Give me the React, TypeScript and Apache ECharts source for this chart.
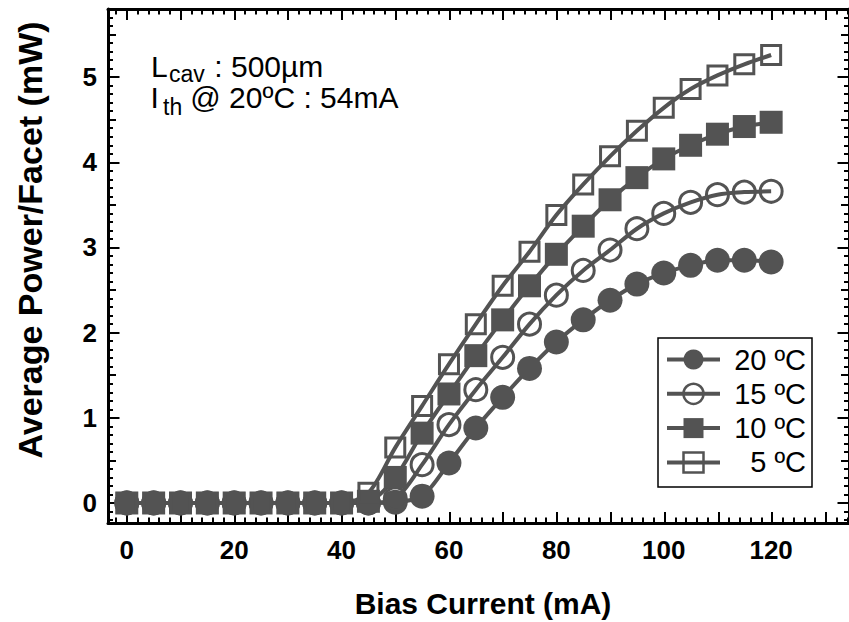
import React, { useEffect, useRef } from 'react';
import * as echarts from 'echarts';

// ---------- data ----------
const currents = [0, 5, 10, 15, 20, 25, 30, 35, 40, 45, 50, 55, 60, 65, 70, 75, 80, 85, 90, 95, 100, 105, 110, 115, 120];
const power20 = [0, 0, 0, 0, 0, 0, 0, 0, 0, 0, 0.01, 0.08, 0.47, 0.88, 1.24, 1.58, 1.89, 2.15, 2.38, 2.57, 2.70, 2.79, 2.85, 2.85, 2.83];
const power15 = [0, 0, 0, 0, 0, 0, 0, 0, 0, 0, 0.05, 0.45, 0.92, 1.33, 1.71, 2.10, 2.44, 2.73, 2.97, 3.22, 3.40, 3.53, 3.62, 3.65, 3.66];
const power10 = [0, 0, 0, 0, 0, 0, 0, 0, 0, 0.02, 0.30, 0.82, 1.28, 1.73, 2.15, 2.55, 2.92, 3.25, 3.56, 3.82, 4.04, 4.20, 4.33, 4.42, 4.47];
const power5 = [0, 0, 0, 0, 0, 0, 0, 0, 0, 0.12, 0.65, 1.14, 1.63, 2.10, 2.55, 2.95, 3.38, 3.74, 4.07, 4.37, 4.64, 4.86, 5.02, 5.15, 5.26];
const seriesNames = ['20 ºC', '15 ºC', '10 ºC', '5 ºC'];
const xTickLabels = [0, 20, 40, 60, 80, 100, 120];
const yTickLabels = [0, 1, 2, 3, 4, 5];

const X_MIN = -3.5;
const X_MAX = 134.5;
const Y_MIN = -0.235;
const Y_MAX = 5.8;

const GRID = { left: 108, top: 9, width: 742, height: 514 };
const SX = GRID.width / (X_MAX - X_MIN);
const SY = GRID.height / (Y_MAX - Y_MIN);
const GRAY = '#535353';
const FONT = '"Liberation Sans", Arial, Helvetica, sans-serif';

function xAxisDef(position: 'top' | 'bottom', withLabels: boolean) {
  return {
    type: 'value',
    gridIndex: 0,
    position,
    min: X_MIN,
    max: X_MAX,
    axisLine: { show: true, onZero: false, lineStyle: { color: '#000', width: 3 } },
    axisTick: { show: false },
    axisLabel: withLabels
      ? { show: true, customValues: xTickLabels, margin: 14, color: '#000', fontFamily: FONT, fontWeight: 'bold', fontSize: 26 }
      : { show: false },
    splitLine: { show: false },
    z: 3,
  };
}

function yAxisDef(position: 'left' | 'right', withLabels: boolean) {
  return {
    type: 'value',
    gridIndex: 0,
    position,
    min: Y_MIN,
    max: Y_MAX,
    axisLine: { show: true, onZero: false, lineStyle: { color: '#000', width: 3 } },
    axisTick: { show: false },
    axisLabel: withLabels
      ? { show: true, customValues: yTickLabels, margin: 11, color: '#000', fontFamily: FONT, fontWeight: 'bold', fontSize: 26 }
      : { show: false },
    splitLine: { show: false },
    z: 3,
  };
}

function makeSeries(name: string, values: number[], symbol: string, size: number, filled: boolean) {
  return {
    type: 'line',
    name,
    data: currents.map((c, i) => [c, values[i]]),
    xAxisIndex: 0,
    yAxisIndex: 0,
    smooth: 0.3,
    showAllSymbol: true,
    symbol,
    symbolSize: size,
    lineStyle: { color: GRAY, width: 4 },
    itemStyle: filled
      ? { color: GRAY, borderWidth: 0 }
      : { color: 'rgba(0,0,0,0)', borderColor: GRAY, borderWidth: 3 },
    emphasis: { disabled: true },
    z: 2,
  };
}

// Tick-only grids: each has the same px-per-unit as the main grid, but starts at its first tick,
// so ECharts' own interval ticks (counted from min) fall on the right values.
type TickSpec = { dir: 'x' | 'y'; min: number; max: number; interval: number; len: number };
const tickSpecs: TickSpec[] = [
  { dir: 'x', min: -2, max: 134, interval: 2, len: 5.5 },
  { dir: 'x', min: 0, max: 130, interval: 10, len: 11 },
  { dir: 'y', min: -0.2, max: 5.7, interval: 0.1, len: 5 },
  { dir: 'y', min: 0.5, max: 5.5, interval: 0.5, len: 8 },
  { dir: 'y', min: 0, max: 5, interval: 1, len: 11.5 },
];

function buildTickComponents() {
  const grids: any[] = [];
  const xs: any[] = [];
  const ys: any[] = [];
  tickSpecs.forEach((t, k) => {
    const gi = k + 1;
    const tickAxis = (position: string) => ({
      type: 'value',
      gridIndex: gi,
      position,
      min: t.min,
      max: t.max,
      interval: t.interval,
      axisLine: { show: false, onZero: false },
      axisTick: { show: true, inside: true, length: t.len, lineStyle: { color: '#000', width: 2 } },
      axisLabel: { show: false },
      splitLine: { show: false },
      minorTick: { show: false },
      z: 1,
    });
    const hidden = { type: 'value', gridIndex: gi, show: false, min: 0, max: 1, splitLine: { show: false } };
    if (t.dir === 'x') {
      grids.push({ left: GRID.left + (t.min - X_MIN) * SX, width: (t.max - t.min) * SX, top: GRID.top, height: GRID.height });
      xs.push(tickAxis('bottom'), tickAxis('top'));
      ys.push(hidden);
    } else {
      grids.push({ left: GRID.left, width: GRID.width, top: GRID.top + (Y_MAX - t.max) * SY, height: (t.max - t.min) * SY });
      ys.push(tickAxis('left'), tickAxis('right'));
      xs.push(hidden);
    }
  });
  return { grids, xs, ys };
}

export default function App() {
  const ref = useRef<HTMLDivElement>(null);

  useEffect(() => {
    if (!ref.current) return;
    const chart = echarts.init(ref.current, undefined, { renderer: 'svg' });
    const txt = (size: number, lh: number) => ({ fontFamily: FONT, fontSize: size, lineHeight: lh, fill: '#000' });
    const tc = buildTickComponents();

    const texts: any[] = [
      { type: 'text', x: 151, y: 66.6, style: { text: 'L', ...txt(30, 26) }, z: 10 },
      { type: 'text', x: 169, y: 74, style: { text: 'cav', ...txt(23, 18) }, z: 10 },
      { type: 'text', x: 206, y: 66.6, style: { text: ' : 500µm', ...txt(30, 26) }, z: 10 },
      { type: 'text', x: 150.5, y: 97.8, style: { text: 'I', ...txt(30, 26) }, z: 10 },
      { type: 'text', x: 163, y: 106.7, style: { text: 'th', ...txt(23, 18) }, z: 10 },
      { type: 'text', x: 182, y: 97.8, style: { text: ' @ 20ºC : 54mA', ...txt(30, 26) }, z: 10 },
      {
        type: 'text', x: 483, y: 603, z: 10,
        style: { text: 'Bias Current (mA)', fontFamily: FONT, fontWeight: 'bold', fontSize: 30, fill: '#000' },
      },
      {
        type: 'text', x: 30, y: 240, rotation: Math.PI / 2, z: 10,
        style: { text: 'Average Power/Facet (mW)', fontFamily: FONT, fontWeight: 'bold', fontSize: 34, fill: '#000' },
      },
    ];
    texts.forEach((t, i) => {
      t.style.textVerticalAlign = 'middle';
      if (i >= 6) t.style.textAlign = 'center';
    });

    const option = {
      animation: false,
      backgroundColor: '#fff',
      grid: [{ ...GRID }, ...tc.grids],
      xAxis: [xAxisDef('bottom', true), xAxisDef('top', false), ...tc.xs],
      yAxis: [yAxisDef('left', true), yAxisDef('right', false), ...tc.ys],
      legend: {
        orient: 'vertical',
        left: 658,
        top: 338,
        padding: [7, 6, 10, 7],
        itemWidth: 53,
        itemHeight: 25,
        itemGap: 5.3,
        borderColor: '#000',
        borderWidth: 1.5,
        backgroundColor: '#fff',
        selectedMode: false,
        data: [
          { name: seriesNames[0], itemStyle: { color: GRAY, borderWidth: 0 }, lineStyle: { color: GRAY, width: 4 } },
          { name: seriesNames[1], itemStyle: { color: 'rgba(0,0,0,0)', borderColor: GRAY, borderWidth: 2.5 }, lineStyle: { color: GRAY, width: 4 } },
          { name: seriesNames[2], itemStyle: { color: GRAY, borderWidth: 0 }, lineStyle: { color: GRAY, width: 4 } },
          { name: seriesNames[3], itemStyle: { color: 'rgba(0,0,0,0)', borderColor: GRAY, borderWidth: 2.5 }, lineStyle: { color: GRAY, width: 4 } },
        ],
        formatter: (name: string) => `{t|${name}}`,
        textStyle: {
          rich: {
            t: { fontFamily: FONT, fontSize: 29, color: '#000', width: 81, align: 'right', lineHeight: 28 },
          },
        },
      },
      series: [
        makeSeries(seriesNames[0], power20, 'circle', 25, true),
        makeSeries(seriesNames[1], power15, 'circle', 22, false),
        makeSeries(seriesNames[2], power10, 'rect', 23, true),
        makeSeries(seriesNames[3], power5, 'rect', 19, false),
      ],
      graphic: texts,
    };

    chart.setOption(option as any);
    return () => chart.dispose();
  }, []);

  return (
    <div
      ref={ref}
      style={{ position: 'fixed', left: 0, top: 0, width: 849, height: 622, background: '#fff' }}
    />
  );
}
